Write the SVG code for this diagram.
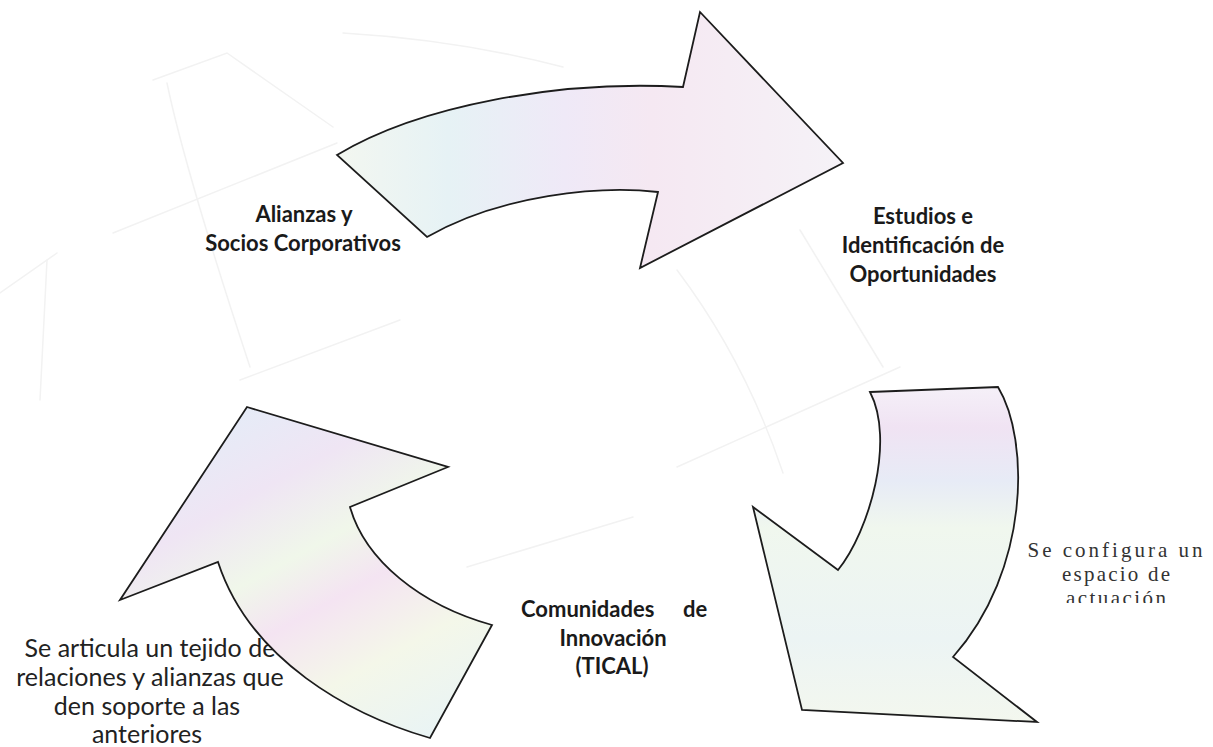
<svg xmlns="http://www.w3.org/2000/svg" width="1213" height="747" viewBox="0 0 1213 747">
<style>
.bg{fill:none;stroke:#f2f2f2;stroke-width:1.5;stroke-linecap:round}
.arrow{stroke:#1c1c1c;stroke-width:1.8;stroke-linejoin:miter}
.lbl{font-family:Lato,"Liberation Sans",sans-serif;font-weight:700;font-size:22px;fill:#1a1a1a;text-anchor:middle}
.cap{font-family:Lato,"Liberation Sans",sans-serif;font-size:25px;fill:#222;text-anchor:middle}
.ser{font-family:"Liberation Serif",serif;font-size:21px;fill:#333;text-anchor:middle}
</style>
<defs>
<linearGradient id="gTop" x1="337" y1="0" x2="843" y2="0" gradientUnits="userSpaceOnUse">
<stop offset="0" stop-color="#f3f7f0"/>
<stop offset="0.22" stop-color="#e6f2f5"/>
<stop offset="0.45" stop-color="#efe9f7"/>
<stop offset="0.62" stop-color="#f5e8f2"/>
<stop offset="1" stop-color="#f5f2f7"/>
</linearGradient>
<linearGradient id="gRight" x1="0" y1="387" x2="0" y2="722" gradientUnits="userSpaceOnUse">
<stop offset="0" stop-color="#f5f0f8"/>
<stop offset="0.12" stop-color="#f0e3f3"/>
<stop offset="0.28" stop-color="#e7ebf6"/>
<stop offset="0.42" stop-color="#f0f7ee"/>
<stop offset="0.75" stop-color="#ecf4f4"/>
<stop offset="1" stop-color="#f3f7ee"/>
</linearGradient>
<linearGradient id="gLeft" x1="250" y1="410" x2="430" y2="740" gradientUnits="userSpaceOnUse">
<stop offset="0" stop-color="#e6ebf7"/>
<stop offset="0.2" stop-color="#efe5f4"/>
<stop offset="0.4" stop-color="#f0f7ea"/>
<stop offset="0.55" stop-color="#f4e4f2"/>
<stop offset="0.75" stop-color="#f4f7e9"/>
<stop offset="1" stop-color="#e9f4f5"/>
</linearGradient>
<clipPath id="clipR"><rect x="1015" y="530" width="198" height="73"/></clipPath>
</defs>
<rect width="1213" height="747" fill="#ffffff"/>
<g id="background">
<path class="bg" d="M0,293 L57,253"/>
<path class="bg" d="M113,233 L337,143"/>
<path class="bg" d="M153,80 L227,53 L333,127"/>
<path class="bg" d="M167,83 Q185,170 250,367"/>
<path class="bg" d="M47,260 L40,400"/>
<path class="bg" d="M240,380 L400,320"/>
<path class="bg" d="M343,33 Q460,40 563,67"/>
<path class="bg" d="M677,270 Q745,360 783,473"/>
<path class="bg" d="M677,467 L900,367"/>
<path class="bg" d="M467,567 L633,517"/>
<path class="bg" d="M800,230 L883,367"/>
</g>
<g id="text-left">
<text class="cap"><tspan x="150" y="657">Se articula un tejido de</tspan><tspan x="150" y="686">relaciones y alianzas que</tspan><tspan x="147" y="715">den soporte a las</tspan><tspan x="147" y="743">anteriores</tspan></text>
</g>
<g id="connectors">
<g id="arrow-top">
<path class="arrow" fill="url(#gTop)" d="M337,155 C420,105 560,80 683,87 L700,12 L843,163 L640,268 L658,192 C600,185 500,195 427,237 Z"/>
</g>
<g id="arrow-right">
<path class="arrow" fill="url(#gRight)" d="M870,392 L998,387 C1030,440 1030,570 953,657 L1037,722 L802,710 L753,507 L838,570 C870,530 895,440 870,392 Z"/>
</g>
<g id="arrow-left">
<path class="arrow" fill="url(#gLeft)" d="M247,407 L448,467 L350,507 C365,560 420,605 492,625 L430,738 C350,715 250,660 218,562 L120,600 Z"/>
</g>
</g>
<g id="node-alianzas">
<text class="lbl"><tspan x="304" y="222">Alianzas y</tspan><tspan x="303" y="251">Socios Corporativos</tspan></text>
</g>
<g id="node-estudios">
<text class="lbl"><tspan x="923" y="224">Estudios e</tspan><tspan x="923" y="253">Identificación de</tspan><tspan x="923" y="282">Oportunidades</tspan></text>
</g>
<g id="node-comunidades">
<text class="lbl" style="text-anchor:start"><tspan x="521" y="617">Comunidades</tspan><tspan x="683" y="617">de</tspan></text>
<text class="lbl"><tspan x="613" y="646">Innovación</tspan><tspan x="612" y="674">(TICAL)</tspan></text>
</g>
<g id="text-right" clip-path="url(#clipR)">
<text class="ser"><tspan x="1115" y="557" textLength="175">Se configura un</tspan><tspan x="1116" y="581" textLength="108">espacio de</tspan><tspan x="1116" y="605" textLength="100">actuación</tspan></text>
</g>
</svg>
